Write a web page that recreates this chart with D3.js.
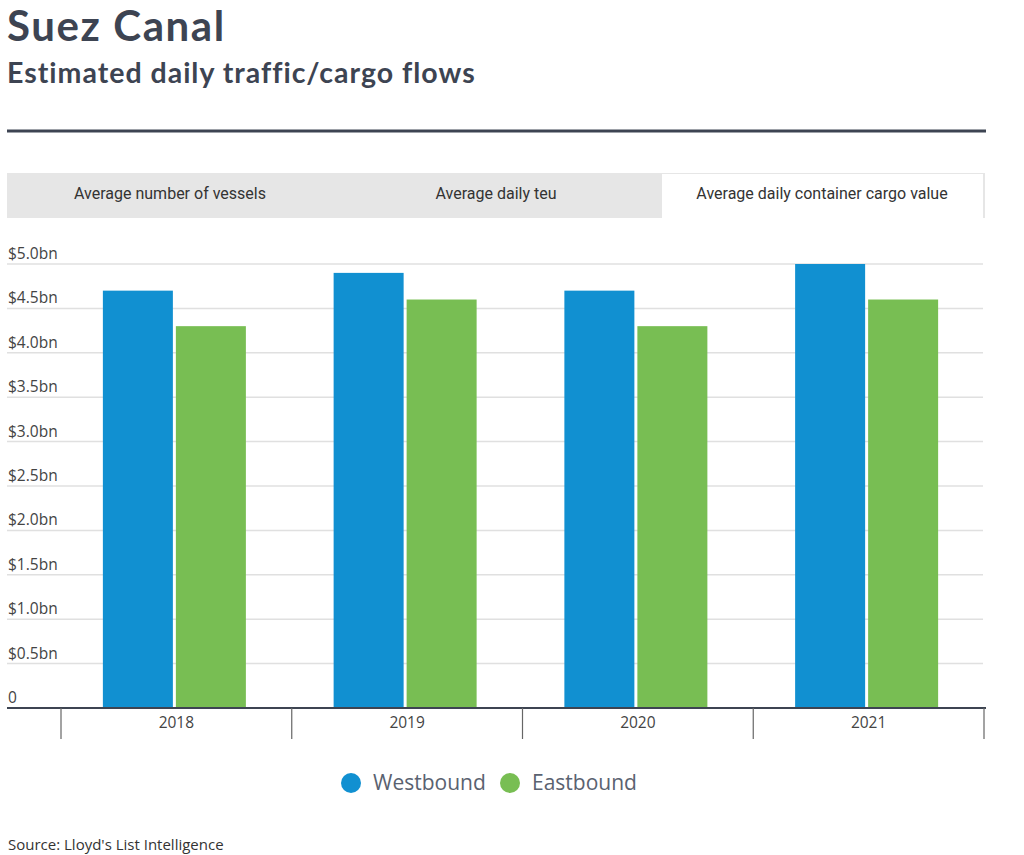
<!DOCTYPE html>
<html><head><meta charset="utf-8">
<script src="https://cdn.jsdelivr.net/npm/d3@7"></script>
<style>
body{margin:0;background:#fff;}
svg{display:block;}
</style></head>
<body>
<svg id="c" width="1024" height="855"></svg>
<script>
const years = ["2018","2019","2020","2021"];
const westbound = [4.7, 4.9, 4.7, 5.0];
const eastbound = [4.3, 4.6, 4.3, 4.6];
const seriesNames = ["Westbound","Eastbound"];
const seriesColors = ["#1190d1","#78be53"];
const yTicks = [0,0.5,1.0,1.5,2.0,2.5,3.0,3.5,4.0,4.5,5.0];
const tabs = ["Average number of vessels","Average daily teu","Average daily container cargo value"];

(function(){
const svg = d3.select("#c");
const dark = "#3d4452";

svg.append("text").attr("x",7).attr("y",41).text("Suez Canal")
  .attr("font-family","Lato").attr("font-weight",700).attr("font-size",42)
  .attr("letter-spacing",1.6).attr("fill",dark);
svg.append("text").attr("x",7).attr("y",83).text("Estimated daily traffic/cargo flows")
  .attr("font-family","Lato").attr("font-weight",700).attr("font-size",28.5)
  .attr("letter-spacing",1.0).attr("fill",dark);
svg.append("rect").attr("x",7).attr("y",129.5).attr("width",979).attr("height",3).attr("fill",dark);

// tabs
svg.append("rect").attr("x",7).attr("y",173).attr("width",978).attr("height",45).attr("fill","#e6e6e6");
svg.append("rect").attr("x",662).attr("y",174).attr("width",321).attr("height",44).attr("fill","#fff");
const tabX = [170,496,822];
tabs.forEach((t,i)=>{
  svg.append("text").attr("x",tabX[i]).attr("y",199).attr("text-anchor","middle").text(t)
    .attr("font-family","Liberation Sans Narrow, Roboto").attr("font-size",16).attr("fill","#333");
});

const pLeft = 61, pRight = 984, pTop = 264, pBottom = 708;
const y = d3.scaleLinear().domain([0,5]).range([pBottom, pTop]);
const x = d3.scaleBand().domain(years).range([pLeft,pRight]).paddingInner(0).paddingOuter(0);
const bw = 70, gap = 3, shift = -2;

// grid
const grid = svg.append("g");
yTicks.forEach(v=>{
  if(v>0) grid.append("line").attr("x1",7).attr("x2",983).attr("y1",y(v)).attr("y2",y(v))
    .attr("stroke","#e0e0e0").attr("stroke-width",1.5);
  grid.append("text").attr("x",8).attr("y",y(v)-5).text(v===0?"0":"$"+v.toFixed(1)+"bn")
    .attr("font-family","Open Sans").attr("font-size",15.5).attr("fill","#444");
});

// bars
const data = years.map((yr,i)=>({yr, vals:[westbound[i], eastbound[i]]}));
data.forEach(d=>{
  const cx = x(d.yr) + x.bandwidth()/2 + shift;
  d.vals.forEach((v,j)=>{
    const bx = j===0 ? cx - gap/2 - bw : cx + gap/2;
    svg.append("rect").attr("x",bx).attr("y",y(v)).attr("width",bw).attr("height",y(0)-y(v))
      .attr("fill",seriesColors[j]);
  });
});

// x axis
const xa = svg.append("g").attr("transform",`translate(0,${pBottom})`);
xa.append("line").attr("x1",7).attr("x2",986).attr("y1",0).attr("y2",0).attr("stroke",dark).attr("stroke-width",2);
const bounds = years.map(yr=>x(yr)).concat([pRight]);
bounds.forEach(b=>{
  xa.append("line").attr("x1",b).attr("x2",b).attr("y1",0).attr("y2",31).attr("stroke","#666").attr("stroke-width",1.2);
});
years.forEach(yr=>{
  xa.append("text").attr("x",x(yr)+x.bandwidth()/2).attr("y",20).attr("text-anchor","middle").text(yr)
    .attr("font-family","Open Sans").attr("font-size",15.5).attr("fill","#444");
});

// legend
const legX = [351, 510];
seriesNames.forEach((n,i)=>{
  svg.append("circle").attr("cx",legX[i]).attr("cy",783).attr("r",10).attr("fill",seriesColors[i]);
  svg.append("text").attr("x",legX[i]+22).attr("y",790).text(n)
    .attr("font-family","Open Sans").attr("font-size",21).attr("fill","#5a6270");
});

svg.append("text").attr("x",8).attr("y",850).text("Source: Lloyd's List Intelligence")
  .attr("font-family","Open Sans").attr("font-size",15).attr("fill","#333");
})();
</script>
</body></html>
